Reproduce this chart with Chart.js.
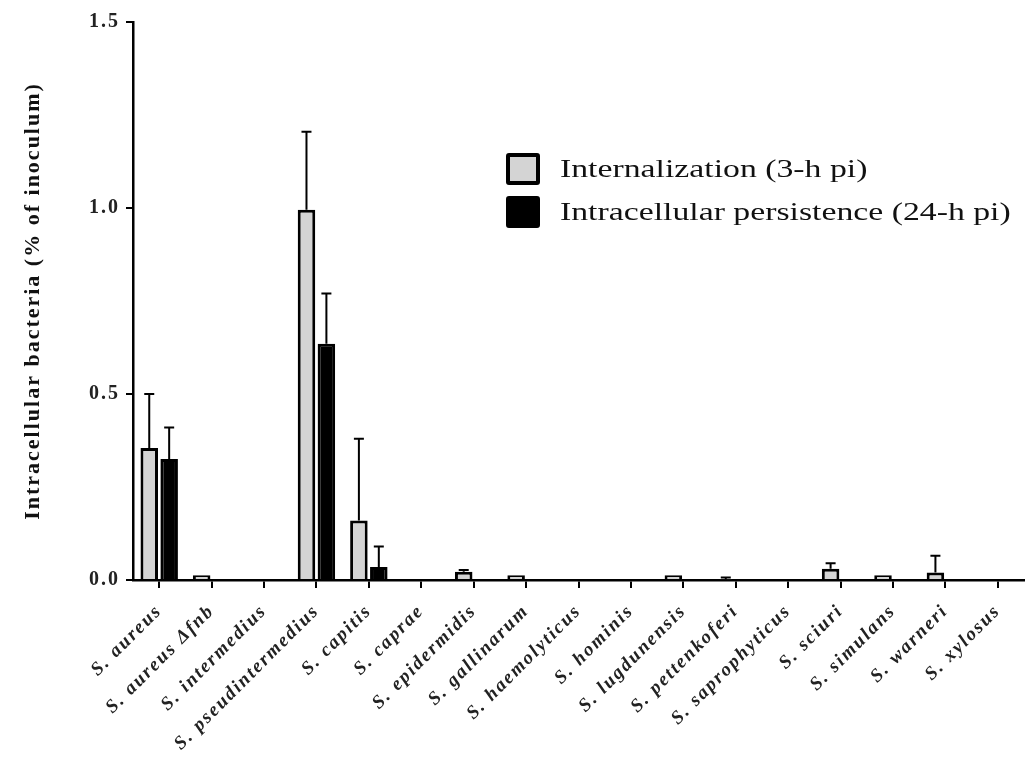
<!DOCTYPE html>
<html>
<head>
<meta charset="utf-8">
<script src="https://cdn.jsdelivr.net/npm/chart.js@4/dist/chart.umd.min.js"></script>
<style>
  body{margin:0;background:#fff;}
  #wrap{position:relative;width:1032px;height:767px;}
  #legend{position:absolute;left:506px;top:147px;font-family:'Liberation Serif',serif;font-size:25px;color:#111;}
  .row{display:flex;align-items:center;height:43px;}
  .box{width:34px;height:32px;box-sizing:border-box;margin-right:20px;border:4px solid #000;border-radius:3px;flex:none;}
  .txt{display:inline-block;transform:scaleX(1.35);transform-origin:left center;white-space:nowrap;}
</style>
</head>
<body>
<div id="wrap">
  <canvas id="chart" width="1032" height="767"></canvas>
  <div id="legend"></div>
</div>
<script>

let species=['S. aureus','S. aureus \u0394fnb','S. intermedius','S. pseudintermedius','S. capitis','S. caprae',
  'S. epidermidis','S. gallinarum','S. haemolyticus','S. hominis','S. lugdunensis','S. pettenkoferi',
  'S. saprophyticus','S. sciuri','S. simulans','S. warneri','S. xylosus']

let internalization=[0.355,0.013,0,0.995,0.16,0,0.022,0.013,0,0,0.013,0.002,0,0.03,0.013,0.02,0]
let internalizationErr=[0.145,0,0,0.21,0.22,0,0.005,0,0,0,0,0.005,0,0.015,0,0.045,0]

let persistence=[0.325,0,0,0.635,0.035,0,0,0,0,0,0,0,0,0,0,0,0]
let persistenceErr=[0.085,0,0,0.135,0.055,0,0,0,0,0,0,0,0,0,0,0,0]

let yTicks=[0,0.5,1.0,1.5]

let labelNames=['Internalization (3-h pi)','Intracellular persistence (24-h pi)']
let fills=['#d4d4d4','#000000']


// the original text is a bit spread out, so widen the canvas letters
let spacing={
    id:'spacing',
    beforeLayout(chart){chart.ctx.letterSpacing='2px'},
    beforeDraw(chart){chart.ctx.letterSpacing='2px'}
}

// upper error bars only, drawn on the library's own scales
let errorBars={
    id:'errorBars',
    afterDatasetsDraw(chart){
        let ctx=chart.ctx
        let yScale=chart.scales.y
        chart.data.datasets.forEach(function(ds,i){
            let meta=chart.getDatasetMeta(i)
            meta.data.forEach(function(bar,j){
                let e=ds.errors[j]
                if(!e) return
                let top=yScale.getPixelForValue(ds.data[j]+e)
                ctx.save()
                ctx.strokeStyle='#000'
                ctx.lineWidth=2
                ctx.beginPath()
                ctx.moveTo(bar.x,bar.y)
                ctx.lineTo(bar.x,top)
                ctx.moveTo(bar.x-5,top)
                ctx.lineTo(bar.x+5,top)
                ctx.stroke()
                ctx.restore()
            })
        })
    }
}

let myChart={
    type:'bar',
    data:{
        labels:species,
        datasets:[{
            label:labelNames[0],
            data:internalization,
            errors:internalizationErr,
            backgroundColor:fills[0],
            borderColor:'#000',
            borderWidth:3,
            barPercentage:0.88,
            categoryPercentage:0.76
        },{
            label:labelNames[1],
            data:persistence,
            errors:persistenceErr,
            backgroundColor:fills[1],
            borderColor:'#000',
            borderWidth:3,
            barPercentage:0.88,
            categoryPercentage:0.76
        }]
    },
    options:{
        responsive:false,
        animation:false,
        layout:{padding:{left:20,right:8,top:22,bottom:5}},
        plugins:{legend:{display:false},tooltip:{enabled:false}},
        scales:{
            x:{
                grid:{offset:false,drawOnChartArea:false,color:'#000',lineWidth:2,tickLength:8},
                border:{color:'#000',width:2.5},
                ticks:{
                    color:'#222',
                    maxRotation:45,minRotation:45,
                    autoSkip:false,
                    padding:12,
                    font:{family:'Liberation Serif',size:19,style:'italic',weight:'bold'}
                },
                afterFit:function(s){s.height=182}
            },
            y:{
                min:0,max:1.5,
                afterBuildTicks:function(s){s.ticks=yTicks.map(function(v){return {value:v}})},
                grid:{drawOnChartArea:false,color:'#000',lineWidth:2,tickLength:7},
                border:{color:'#000',width:2.5},
                ticks:{
                    color:'#222',
                    padding:6,
                    callback:function(v){return Number(v).toFixed(1)},
                    font:{family:'Liberation Serif',size:20,weight:'bold'}
                },
                title:{
                    display:true,
                    text:'Intracellular bacteria (% of inoculum)',
                    color:'#111',
                    padding:{top:0,bottom:0},
                    font:{family:'Liberation Serif',size:22,weight:'bold'}
                },
                afterFit:function(s){s.width=113}
            }
        }
    },
    plugins:[spacing,errorBars]
}

let ctx=document.getElementById('chart').getContext('2d')
new Chart(ctx,myChart)

// legend as html text
let legend=document.getElementById('legend')
for(let i=0;i<labelNames.length;i++){
    let row=document.createElement('div')
    row.className='row'
    let box=document.createElement('div')
    box.className='box'
    box.style.background=fills[i]
    let txt=document.createElement('span')
    txt.className='txt'
    txt.textContent=labelNames[i]
    row.appendChild(box)
    row.appendChild(txt)
    legend.appendChild(row)
}

</script>
</body>
</html>
